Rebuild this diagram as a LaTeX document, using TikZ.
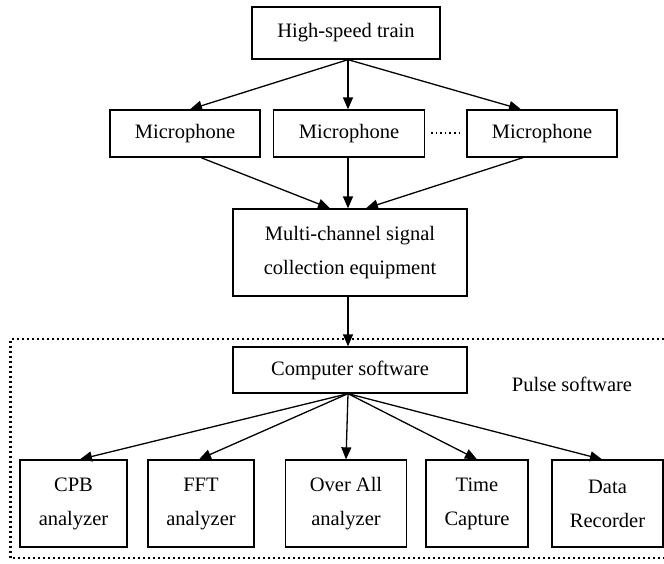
\documentclass[tikz,border=0pt]{standalone}
\usepackage{fontspec}
\setmainfont{Liberation Serif}
\usetikzlibrary{arrows.meta}
\begin{document}
\begin{tikzpicture}[x=1pt,y=-1pt,
  box/.style={draw,line width=1.3pt,inner sep=0pt,align=center,
    font=\fontsize{20.5}{34}\selectfont},
  arr/.style={line width=1.3pt,-{Triangle[length=12pt,width=10pt]}},
  group/.style={line width=2.4pt,dash pattern=on 2.4pt off 2.6pt}]
\useasboundingbox (0,0) rectangle (664,563);
\fill[white] (0,0) rectangle (664,563);
\node[box,minimum width=188pt,minimum height=52pt] (train) at (346,33) {High-speed train};
\node[box,minimum width=150pt,minimum height=47pt] (mic1) at (185,133.5) {Microphone};
\node[box,minimum width=151pt,minimum height=47pt] (mic2) at (349,133.5) {Microphone};
\node[box,minimum width=150pt,minimum height=47pt] (mic3) at (542,133.5) {Microphone};
\node[box,minimum width=234pt,minimum height=87pt] (multi) at (350,252.5) {\raisebox{-4pt}{Multi-channel signal}\\\raisebox{-4pt}{collection equipment}};
\node[box,minimum width=234pt,minimum height=46pt] (comp) at (350,370) {Computer software};
\node[box,minimum width=107pt,minimum height=87pt] (cpb) at (73.5,503.5) {\raisebox{-3pt}{CPB}\\\raisebox{-3pt}{analyzer}};
\node[box,minimum width=106pt,minimum height=87pt] (fft) at (201,503.5) {\raisebox{-3pt}{FFT}\\\raisebox{-3pt}{analyzer}};
\node[box,minimum width=121pt,minimum height=87pt] (over) at (346,503.5) {\raisebox{-3pt}{Over All}\\\raisebox{-3pt}{analyzer}};
\node[box,minimum width=102pt,minimum height=87pt] (time) at (477,503.5) {\raisebox{-3pt}{Time}\\\raisebox{-3pt}{Capture}};
\node[box,minimum width=111pt,minimum height=87pt] (data) at (607.5,503.5) {\raisebox{-3pt}{Data}\\\raisebox{-3pt}{Recorder}};
\node[font=\fontsize{20.5}{24}\selectfont,inner sep=0pt] (pulse) at (572,384) {Pulse software};
% ellipsis between microphones
\coordinate (dotsA) at (431,133);
\coordinate (dotsB) at (462,133);
\draw[line width=1.6pt,dash pattern=on 1.6pt off 3pt] (dotsA) -- (dotsB);
% dotted group frame (right side cut off by picture edge)
\coordinate (gTR) at (664,339);
\coordinate (gTL) at (10.5,339);
\coordinate (gBL) at (10.5,558);
\coordinate (gBR) at (664,558);
\draw[group] (gTR) -- (gTL) -- (gBL) -- (gBR);
% connectors
\draw[arr] ([xshift=2pt]train.south) -- ([xshift=5pt]mic1.north);
\draw[arr] ([xshift=2pt]train.south) -- ([xshift=-1pt]mic2.north);
\draw[arr] ([xshift=2pt]train.south) -- ([xshift=-21pt]mic3.north);
\draw[arr] ([xshift=16pt]mic1.south) -- ([xshift=-20pt]multi.north);
\draw[arr] ([xshift=-1pt]mic2.south) -- ([xshift=-2pt]multi.north);
\draw[arr] ([xshift=-19pt]mic3.south) -- ([xshift=16pt]multi.north);
\draw[arr] ([xshift=-2pt]multi.south) -- ([xshift=-2pt]comp.north);
\draw[arr] ([xshift=-2pt]comp.south) -- ([xshift=6.5pt]cpb.north);
\draw[arr] ([xshift=-2pt]comp.south) -- ([xshift=-2pt]fft.north);
\draw[arr] ([xshift=-2pt]comp.south) -- (over.north);
\draw[arr] ([xshift=-2pt]comp.south) -- (time.north);
\draw[arr] ([xshift=-2pt]comp.south) -- ([xshift=-5.5pt]data.north);
\end{tikzpicture}
\end{document}
